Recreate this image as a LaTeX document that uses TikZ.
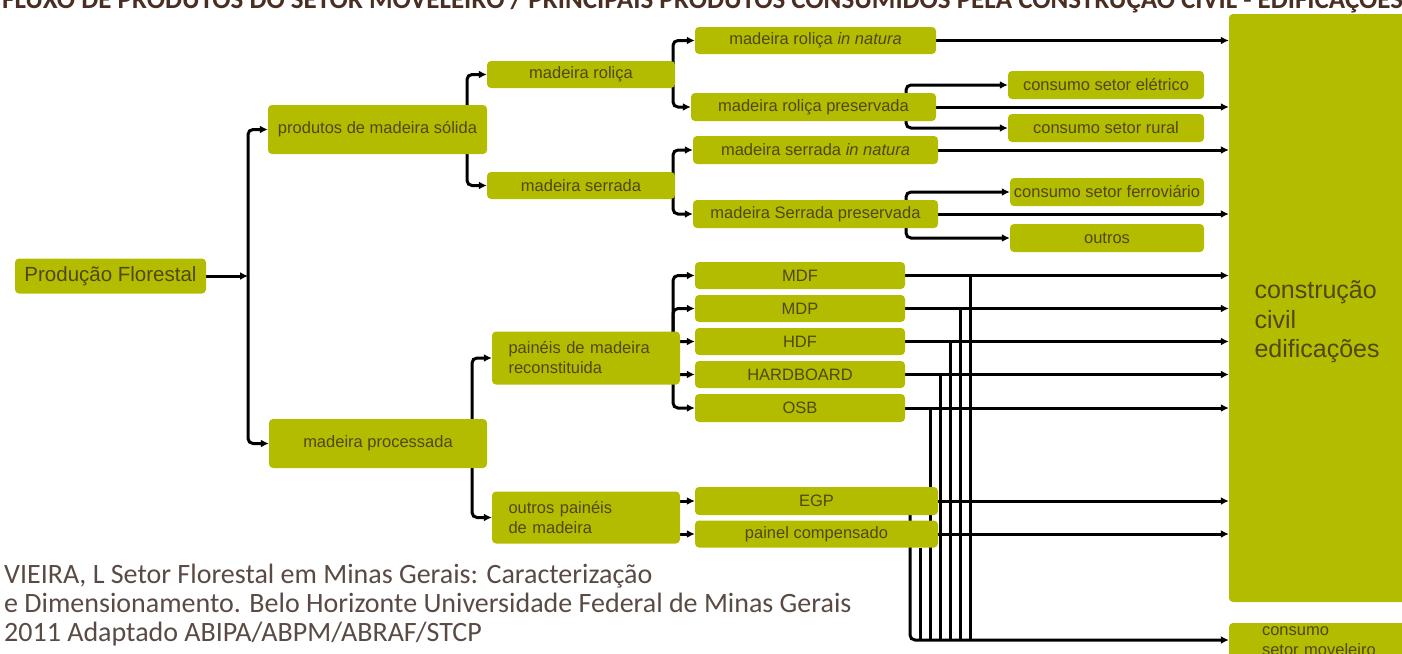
\documentclass[tikz,border=0pt]{standalone}
\usepackage{fontspec}
\setmainfont{Liberation Sans}
\newfontfamily\citefont{Carlito}
\usetikzlibrary{arrows.meta,backgrounds}
\definecolor{boxc}{HTML}{B4BC00}
\definecolor{txtc}{HTML}{514713}
\definecolor{citec}{HTML}{5A4A44}
\definecolor{titlec}{HTML}{4A2E22}
\begin{document}
\begin{tikzpicture}[x=1pt,y=-1pt,
  box/.style={fill=boxc, rounded corners=4pt, inner sep=0pt, text=txtc,
              font=\fontsize{16.5}{20}\selectfont, align=center},
  line/.style={line width=3pt, draw=black, rounded corners=5pt},
  arr/.style={line, -{Latex[length=8pt,width=8pt]}}]
\clip (0,0) rectangle (1402,653);

% title (cut at the top)
\node[anchor=base west, inner sep=0pt, text=titlec,
      font=\citefont\bfseries\fontsize{27}{29}\selectfont] (title) at (2,9)
  {FLUXO DE PRODUTOS DO SETOR MOVELEIRO / PRINCIPAIS PRODUTOS CONSUMIDOS PELA CONSTRUÇÃO CIVIL - EDIFICAÇÕES};

% nodes
\node[box, minimum width=191, minimum height=35, font=\fontsize{20.5}{24}\selectfont] (pf) at (110.5,276) {Produção Florestal};
\node[box, minimum width=219, minimum height=49] (pms) at (377.5,129.5) {produtos de madeira sólida};
\node[box, minimum width=218, minimum height=49] (mp) at (378,443.5) {madeira processada};
\node[box, minimum width=188, minimum height=27] (mr) at (581,74.5) {madeira roliça};
\node[box, minimum width=188, minimum height=27] (ms) at (581,185.5) {madeira serrada};
\node[box, minimum width=241, minimum height=27] (mrin) at (815.5,40.5) {madeira roliça \textit{in natura}};
\node[box, minimum width=245, minimum height=28] (mrp) at (813.5,107) {madeira roliça preservada};
\node[box, minimum width=245, minimum height=28] (msin) at (815.5,150) {madeira serrada \textit{in natura}};
\node[box, minimum width=245, minimum height=28] (msp) at (815.5,214) {madeira Serrada preservada};
\node[box, minimum width=196, minimum height=28] (cse) at (1106,85) {consumo setor elétrico};
\node[box, minimum width=196, minimum height=28] (csr) at (1106,128) {consumo setor rural};
\node[box, minimum width=194, minimum height=28] (csf) at (1107,192) {consumo setor ferroviário};
\node[box, minimum width=194, minimum height=28] (out) at (1107,238) {outros};
\node[box, minimum width=210, minimum height=27] (mdf) at (800,275.5) {MDF};
\node[box, minimum width=210, minimum height=27] (mdp) at (800,308.5) {MDP};
\node[box, minimum width=210, minimum height=27] (hdf) at (800,341.5) {HDF};
\node[box, minimum width=210, minimum height=27] (hb) at (800,374.5) {HARDBOARD};
\node[box, minimum width=210, minimum height=28] (osb) at (800,408) {OSB};
\node[box, minimum width=188, minimum height=53, text width=155, align=left] (pr) at (586,358) {painéis de madeira\\reconstituida};
\node[box, minimum width=188, minimum height=52, text width=155, align=left] (op) at (586,517.5) {outros painéis\\de madeira};
\node[box, minimum width=243, minimum height=28] (egp) at (816.5,501) {EGP};
\node[box, minimum width=243, minimum height=27] (pc) at (816.5,534) {painel compensado};
\node[box, minimum width=191, minimum height=588, align=none,
      font=\fontsize{25}{29.5}\selectfont] (cc) at (1324.5,308)
  {\parbox{140pt}{\raggedright\vspace*{28pt}construção\\civil\\edificações}};
\node[box, minimum width=191, minimum height=36, text width=125, align=left] (cm) at (1324.5,641) {consumo\\setor moveleiro};

% citation
\node[anchor=base west, inner sep=0pt, align=left, text=citec,
      font=\citefont\fontsize{28}{29}\selectfont] (cite) at (4,641)
  {VIEIRA, L Setor Florestal em Minas Gerais: Caracterização\\
   e Dimensionamento. Belo Horizonte Universidade Federal de Minas Gerais\\
   2011 Adaptado ABIPA/ABPM/ABRAF/STCP};

% junction coordinates
\coordinate (j1) at (248,276);
\coordinate (j2) at (467,129.5);
\coordinate (j3) at (673,74.5);
\coordinate (j4) at (673,185.5);
\coordinate (j5) at (906,107);
\coordinate (j6) at (906,214);
\coordinate (j7) at (472,443.5);
\coordinate (j8) at (673,358);
\coordinate (v1) at (970,640);
\coordinate (v2) at (960,640);
\coordinate (v3) at (950,640);
\coordinate (v4) at (940,640);
\coordinate (v5) at (930,640);
\coordinate (v6) at (920,640);
\coordinate (v7) at (910,640);

\begin{scope}[on background layer]
\draw[arr] (pf.east) -- (j1);
\draw[arr] (j1) |- (pms.west);
\draw[arr] (j1) |- (mp.west);
\draw[arr] (j2) |- (mr.west);
\draw[arr] (j2) |- (ms.west);
\draw[arr] (j3) |- (mrin.west);
\draw[arr] (j3) |- (mrp.west);
\draw[arr] (j4) |- (msin.west);
\draw[arr] (j4) |- (msp.west);
\draw[arr] (j5) |- (cse.west);
\draw[arr] (j5) |- (csr.west);
\draw[arr] (j6) |- (csf.west);
\draw[arr] (j6) |- (out.west);
\draw[arr] (j7) |- (pr.west);
\draw[arr] (j7) |- (op.west);
\draw[arr] (j8) |- (mdf.west);
\draw[arr] (j8) |- (mdp.west);
\draw[arr] (j8) |- (hdf.west);
\draw[arr] (j8) |- (hb.west);
\draw[arr] (j8) |- (osb.west);
\draw[arr] (egp.west -| op.east) -- (egp.west);
\draw[arr] (pc.west -| op.east) -- (pc.west);
% to construction
\foreach \n in {mrin,mrp,msin,msp,mdf,mdp,hdf,hb,osb,egp,pc}
  \draw[arr] (\n.east) -- (\n.east -| cc.west);
% to furniture sector
\draw[line] (mdf.east -| v1) -- (v1);
\draw[line] (mdp.east -| v2) -- (v2);
\draw[line] (hdf.east -| v3) -- (v3);
\draw[line] (hb.east -| v4) -- (v4);
\draw[line] (osb.east -| v5) -- (v5);
\draw[line] (pc.south -| v6) -- (v6);
\draw[arr] (egp.east -| v7) -- (v7) -- (v7 -| cm.west);
\end{scope}
\end{tikzpicture}
\end{document}
